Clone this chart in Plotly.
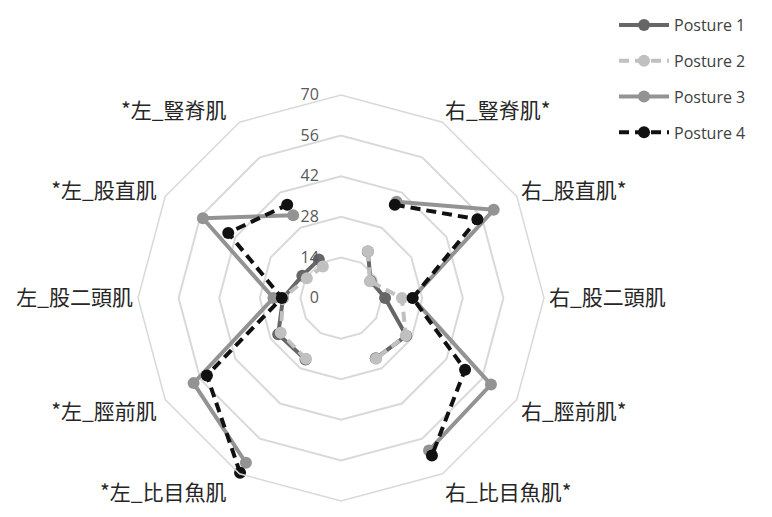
import plotly.graph_objects as go

# Muscle categories (blank top / bottom spokes leave gaps in the lines)
muscles = [" ", "右_豎脊肌*", "右_股直肌*", "右_股二頭肌", "右_脛前肌*", "右_比目魚肌*",
           "  ", "*左_比目魚肌", "*左_脛前肌", "左_股二頭肌", "*左_股直肌", "*左_豎脊肌"]

posture1 = [None, 18.5, 11.8, 15.2, 26.0, 24.0, None, 24.5, 25.0, 20.0, 15.4, 15.3]
posture2 = [None, 18.6, 11.5, 21.0, 25.8, 24.2, None, 24.2, 24.0, 20.0, 13.6, 12.5]
posture3 = [None, 38.3, 60.8, 24.7, 59.7, 60.7, None, 65.6, 58.7, 23.3, 55.0, 33.0]
posture4 = [None, 37.1, 54.3, 24.7, 49.4, 62.7, None, 69.6, 53.4, 20.4, 44.9, 37.1]

radial_ticks = [0, 14, 28, 42, 56, 70]

series = [
    ("Posture 1", posture1, "#666666", "solid"),
    ("Posture 2", posture2, "#c0c0c0", "10px,6px"),
    ("Posture 3", posture3, "#939393", "solid"),
    ("Posture 4", posture4, "#111111", "10px,6px"),
]

# left-side labels sit a bit further out in the original, pad them with spaces
EN = "\u2002"
THIN = "\u2009"
pads = ["", "", "", "", "", "", "", EN, THIN, "", THIN, EN]
tick_labels = [m + p for m, p in zip(muscles, pads)]

fig = go.Figure()

for name, vals, color, dash in series:
    fig.add_trace(
        go.Scatterpolar(
            r=vals,
            theta=muscles,
            name=name,
            legendgroup=name,
            mode="lines+markers",
            connectgaps=False,
            line=dict(color=color, width=4, dash=dash),
            marker=dict(color=color, size=12),
        )
    )

# page body has an 8px margin, so the domain is shifted to compensate
fig.update_layout(
    width=772,
    height=517,
    margin=dict(l=0, r=0, t=0, b=0),
    paper_bgcolor="white",
    font=dict(family="Noto Sans CJK TC", color="#262626"),
    polar=dict(
        domain=dict(x=[0.1684, 0.6943], y=[0.0464, 0.8317]),
        bgcolor="white",
        gridshape="linear",
        radialaxis=dict(
            range=[0, 70],
            tickvals=radial_ticks,
            angle=90,
            tickangle=90,
            side="counterclockwise",
            showline=False,
            ticks="outside",
            ticklen=16,
            tickcolor="rgba(0,0,0,0)",
            gridcolor="#d9d9d9",
            gridwidth=1.5,
            tickfont=dict(size=16, color="#595959", family="Open Sans"),
        ),
        angularaxis=dict(
            direction="clockwise",
            rotation=90,
            categoryorder="array",
            categoryarray=muscles,
            tickmode="array",
            tickvals=muscles,
            ticktext=tick_labels,
            showgrid=False,
            showline=True,
            linecolor="#d9d9d9",
            linewidth=1.5,
            ticks="",
            tickfont=dict(size=21, color="#262626"),
        ),
    ),
    legend=dict(
        x=0.785,
        y=1.0,
        xanchor="left",
        yanchor="top",
        itemwidth=50,
        tracegroupgap=12,
        font=dict(size=16, color="#404040", family="Open Sans"),
    ),
)

fig.write_html("out.html")
